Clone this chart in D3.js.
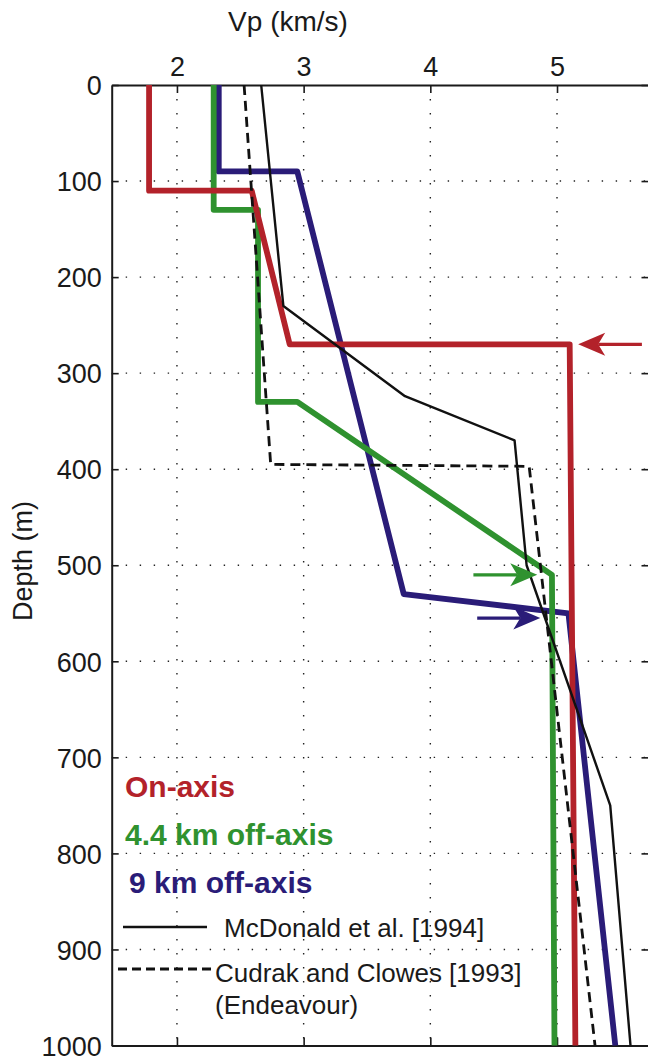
<!DOCTYPE html>
<html>
<head>
<meta charset="utf-8">
<script src="https://cdn.jsdelivr.net/npm/d3@7"></script>
<style>
  html, body { margin: 0; padding: 0; background: #fff; }
  svg { display: block; font-family: "Liberation Sans", Arial, Helvetica, sans-serif; }
</style>
</head>
<body>
<svg id="chart" width="648" height="1056"></svg>
<script>
// ---- data ----
const xTicks = [2, 3, 4, 5];
const yTicks = [0, 100, 200, 300, 400, 500, 600, 700, 800, 900, 1000];

const onAxisVp    = [1.78, 1.78, 2.59, 2.89, 5.10, 5.145];
const onAxisDepth = [0, 110, 110, 270, 270, 1000];

const off44Vp    = [2.29, 2.29, 2.64, 2.64, 2.95, 4.96, 4.98];
const off44Depth = [0, 130, 130, 330, 330, 510, 1000];

const off9Vp    = [2.33, 2.33, 2.95, 3.79, 5.09, 5.46];
const off9Depth = [0, 90, 90, 530, 550, 1000];

const mcdonaldVp    = [2.665, 2.84, 3.80, 4.665, 4.76, 5.42, 5.58];
const mcdonaldDepth = [0, 230, 324, 370, 500, 750, 1000];

const cudrakVp    = [2.53, 2.74, 4.78, 5.30];
const cudrakDepth = [0, 395, 397, 1000];

const arrowDepth = [270, 510, 555];
const arrowTail  = [5.67, 4.34, 4.37];
const arrowTip   = [5.167, 4.844, 4.868];
const arrowColor = ["#b3222a", "#2f922f", "#2a1c78"];

const legendLabels = ["On-axis", "4.4 km off-axis", "9 km off-axis"];
const legendColors = ["#b3222a", "#2f922f", "#2a1c78"];
const refLabels = ["McDonald et al. [1994]", "Cudrak and Clowes [1993]"];

// ---- layout ----
const svg = d3.select("#chart");
const x = d3.scaleLinear().domain([1.485, 5.73]).range([111.7, 649.5]);
const y = d3.scaleLinear().domain([0, 1000]).range([85, 1045.5]);
const [x0, x1] = x.range();
const [y0, y1] = y.range();
const fmt = d3.format("d");

// grid
const grid = svg.append("g").attr("stroke", "#222").attr("stroke-width", 1.4)
  .attr("stroke-dasharray", "1.4,12.6").attr("fill", "none");
grid.selectAll("line.v").data(xTicks).join("line")
  .attr("x1", d => x(d)).attr("x2", d => x(d)).attr("y1", y0 + 14).attr("y2", y1);
grid.selectAll("line.h").data(yTicks.filter(d => d > 0 && d < 1000)).join("line")
  .attr("x1", x0 + 14).attr("x2", x1).attr("y1", d => y(d)).attr("y2", d => y(d));

// axes
const axTop = svg.append("g").attr("transform", `translate(0,${y0})`)
  .call(d3.axisTop(x).tickValues(xTicks).tickFormat(fmt).tickSizeInner(-8).tickSizeOuter(0).tickPadding(9));
const axBottom = svg.append("g").attr("transform", `translate(0,${y1})`)
  .call(d3.axisBottom(x).tickValues(xTicks).tickSizeInner(-8).tickSizeOuter(0).tickFormat(""));
const axLeft = svg.append("g").attr("transform", `translate(${x0},0)`)
  .call(d3.axisLeft(y).tickValues(yTicks).tickFormat(fmt).tickSizeInner(-7).tickSizeOuter(0).tickPadding(10));
const axRight = svg.append("g").attr("transform", `translate(${x1},0)`)
  .call(d3.axisRight(y).tickValues(yTicks).tickSizeInner(-8).tickSizeOuter(0).tickFormat(""));
[axTop, axBottom, axLeft, axRight].forEach(a => {
  a.select(".domain").attr("stroke", "#1a1a1a").attr("stroke-width", 2);
  a.selectAll(".tick line").attr("stroke", "#1a1a1a").attr("stroke-width", 1.6);
  a.selectAll(".tick text").attr("fill", "#1a1a1a").attr("font-size", 27)
    .attr("font-family", "Liberation Sans, Arial, sans-serif");
});
axLeft.selectAll(".tick text").attr("dy", "0.36em");
axTop.selectAll(".tick text").attr("dy", "0");

// axis titles
svg.append("text").attr("x", 288).attr("y", 31).attr("text-anchor", "middle")
  .attr("font-size", 28).attr("fill", "#1a1a1a").text("Vp (km/s)");
svg.append("text").attr("transform", "translate(32,561) rotate(-90)")
  .attr("text-anchor", "middle").attr("font-size", 27).attr("fill", "#1a1a1a").text("Depth (m)");

// profiles
const line = d3.line().x(d => x(d[0])).y(d => y(d[1]));
const zip = (a, b) => a.map((v, i) => [v, b[i]]);
const profiles = [
  { pts: zip(off9Vp, off9Depth), color: "#2a1c78", w: 5.8, dash: null },
  { pts: zip(off44Vp, off44Depth), color: "#2f922f", w: 5.8, dash: null },
  { pts: zip(onAxisVp, onAxisDepth), color: "#b3222a", w: 5.8, dash: null },
  { pts: zip(mcdonaldVp, mcdonaldDepth), color: "#111", w: 2.4, dash: null },
  { pts: zip(cudrakVp, cudrakDepth), color: "#111", w: 2.8, dash: "10,6" }
];
svg.append("g").selectAll("path").data(profiles).join("path")
  .attr("d", d => line(d.pts)).attr("fill", "none")
  .attr("stroke", d => d.color).attr("stroke-width", d => d.w)
  .attr("stroke-linejoin", "round")
  .attr("stroke-dasharray", d => d.dash);

// arrows
const arrows = arrowDepth.map((d, i) => ({ depth: d, tail: arrowTail[i], tip: arrowTip[i], color: arrowColor[i] }));
const ag = svg.append("g").selectAll("g").data(arrows).join("g");
ag.each(function(d) {
  const g = d3.select(this);
  const tx = x(d.tip), ty = y(d.depth), sx = x(d.tail);
  const dir = Math.sign(sx - tx);
  const L = 27, H = 11.5, notch = 7;
  g.append("line").attr("x1", sx).attr("x2", tx + dir * (L - notch)).attr("y1", ty).attr("y2", ty)
    .attr("stroke", d.color).attr("stroke-width", 3.2);
  g.append("path").attr("fill", d.color)
    .attr("d", `M${tx},${ty} L${tx + dir * L},${ty - H} L${tx + dir * (L - notch)},${ty} L${tx + dir * L},${ty + H} Z`);
});

// legend
const lg = svg.append("g");
const legendY = [797, 845, 893];
const legendX = [125, 125, 129];
lg.selectAll("text.lbl").data(legendLabels).join("text")
  .attr("x", (d, i) => legendX[i]).attr("y", (d, i) => legendY[i])
  .attr("font-size", 30).attr("font-weight", "bold")
  .attr("fill", (d, i) => legendColors[i]).text(d => d);

lg.append("line").attr("x1", 123).attr("x2", 207).attr("y1", 927).attr("y2", 927)
  .attr("stroke", "#111").attr("stroke-width", 2.4);
lg.append("text").attr("x", 224).attr("y", 937).attr("font-size", 26).attr("fill", "#1a1a1a").text(refLabels[0]);
lg.append("line").attr("x1", 118).attr("x2", 213).attr("y1", 969).attr("y2", 969)
  .attr("stroke", "#111").attr("stroke-width", 2.8).attr("stroke-dasharray", "9,5");
lg.append("text").attr("x", 215).attr("y", 982).attr("font-size", 26).attr("fill", "#1a1a1a").text(refLabels[1]);
lg.append("text").attr("x", 215).attr("y", 1014).attr("font-size", 26).attr("fill", "#1a1a1a").text("(Endeavour)");
</script>
</body>
</html>
